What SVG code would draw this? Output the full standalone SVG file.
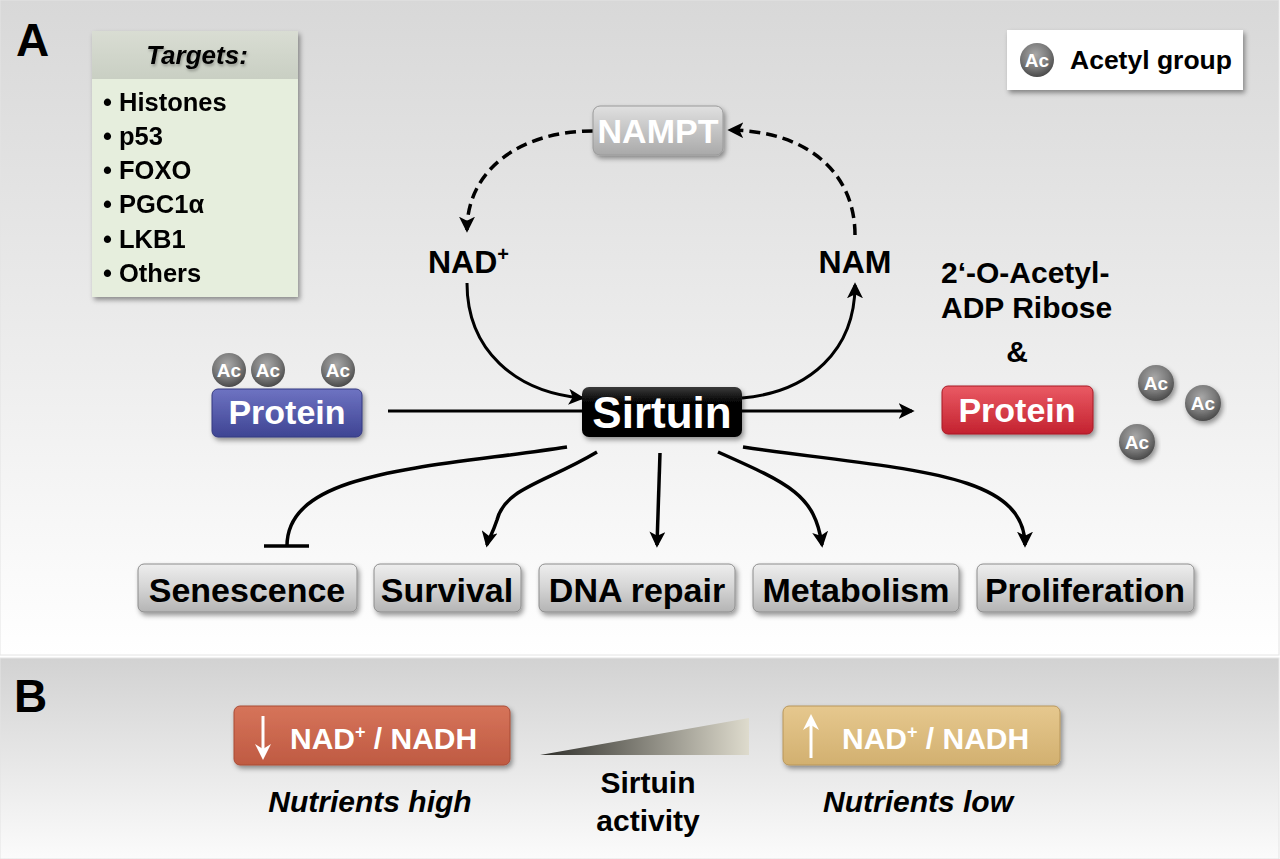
<svg xmlns="http://www.w3.org/2000/svg" width="1280" height="859" viewBox="0 0 1280 859">
<defs>
<linearGradient id="bgA" x1="0" y1="0" x2="0" y2="1"><stop offset="0" stop-color="#d8d8d8"/><stop offset="0.6" stop-color="#efefef"/><stop offset="1" stop-color="#ffffff"/></linearGradient>
<linearGradient id="bgB" x1="0" y1="0" x2="0" y2="1"><stop offset="0" stop-color="#d2d2d2"/><stop offset="1" stop-color="#fbfbfb"/></linearGradient>
<linearGradient id="gGray" x1="0" y1="0" x2="0" y2="1"><stop offset="0" stop-color="#eeeeee"/><stop offset="0.5" stop-color="#d4d4d4"/><stop offset="1" stop-color="#b4b4b4"/></linearGradient>
<linearGradient id="gNampt" x1="0" y1="0" x2="0" y2="1"><stop offset="0" stop-color="#e0e0e0"/><stop offset="1" stop-color="#a9a9a9"/></linearGradient>
<linearGradient id="gBlack" x1="0" y1="0" x2="0" y2="1"><stop offset="0" stop-color="#3a3a3a"/><stop offset="0.3" stop-color="#050505"/><stop offset="1" stop-color="#000"/></linearGradient>
<linearGradient id="gBlue" x1="0" y1="0" x2="0" y2="1"><stop offset="0" stop-color="#6e73c2"/><stop offset="1" stop-color="#3e4493"/></linearGradient>
<linearGradient id="gRed" x1="0" y1="0" x2="0" y2="1"><stop offset="0" stop-color="#ea5a64"/><stop offset="1" stop-color="#c3222f"/></linearGradient>
<linearGradient id="gOrange" x1="0" y1="0" x2="0" y2="1"><stop offset="0" stop-color="#d6745a"/><stop offset="1" stop-color="#bf5a42"/></linearGradient>
<linearGradient id="gTan" x1="0" y1="0" x2="0" y2="1"><stop offset="0" stop-color="#e6c88e"/><stop offset="1" stop-color="#d2b070"/></linearGradient>
<linearGradient id="gWedge" x1="0" y1="0" x2="1" y2="0"><stop offset="0" stop-color="#2e2e2a"/><stop offset="1" stop-color="#dedbcd"/></linearGradient>
<linearGradient id="gHead" x1="0" y1="0" x2="0" y2="1"><stop offset="0" stop-color="#d9ddd3"/><stop offset="1" stop-color="#c9cfc3"/></linearGradient>
<radialGradient id="gAc" cx="0.45" cy="0.35" r="0.65"><stop offset="0" stop-color="#a8a8a8"/><stop offset="0.6" stop-color="#7a7a7a"/><stop offset="1" stop-color="#4a4a4a"/></radialGradient>
<filter id="sh" x="-10%" y="-20%" width="125%" height="150%"><feDropShadow dx="2" dy="3" stdDeviation="2.5" flood-color="#000" flood-opacity="0.4"/></filter>
<filter id="tsh" x="-10%" y="-20%" width="125%" height="150%"><feDropShadow dx="1" dy="2" stdDeviation="1.5" flood-color="#000" flood-opacity="0.3"/></filter>
<marker id="arrL" viewBox="0 0 12 12" refX="10" refY="6" markerWidth="16" markerHeight="16" markerUnits="userSpaceOnUse" orient="auto"><path d="M0,0 L12,6 L0,12 L3,6 z" fill="#000"/></marker>
</defs>
<style>
text{font-family:"Liberation Sans",Arial,sans-serif;font-weight:bold}
.lbl{fill:#000}
.wt{fill:#fff}
.it{font-style:italic}
.bx{stroke:#8c8c8c;stroke-width:1}
.ln{fill:none;stroke:#000;stroke-width:3}
.ds{fill:none;stroke:#000;stroke-width:3.5;stroke-dasharray:11 6}
.out{fill:none;stroke:#000;stroke-width:3.5}
.ac{fill:url(#gAc)}
.act{fill:#fff;font-size:19px;text-anchor:middle}
</style>

<!-- panels -->
<rect x="0" y="0" width="1279" height="655" fill="url(#bgA)" stroke="#e4e4e4"/>
<rect x="0" y="658" width="1279" height="201" fill="url(#bgB)" stroke="#e4e4e4"/>
<text x="16" y="56" font-size="46" class="lbl">A</text>
<text x="14" y="712" font-size="46" class="lbl">B</text>

<!-- connectors -->
<g id="connectors">
<path class="ds" d="M593,131 C520,131 467,170 467,230" marker-end="url(#arrL)"/>
<path class="ds" d="M855,235 C855,175 810,131 730,130" marker-end="url(#arrL)"/>
<path class="ln" d="M467,283 C467,350 515,392 582,398" marker-end="url(#arrL)"/>
<path class="ln" d="M742,398 C810,392 855,350 855,285" marker-end="url(#arrL)"/>
<path class="ln" d="M388,411 L912,411" marker-end="url(#arrL)"/>
<path class="out" d="M567,447 C430,468 287,470 287,546"/>
<path class="out" d="M264,546 L309,546" stroke-width="5"/>
<path class="out" d="M597,452 C545,483 505,488 497,520 C492,535 488,540 487,545" marker-end="url(#arrL)"/>
<path class="out" d="M660,453 L657,545" marker-end="url(#arrL)"/>
<path class="out" d="M718,452 C790,484 815,495 822,545" marker-end="url(#arrL)"/>
<path class="out" d="M743,447 C900,470 1025,470 1025,545" marker-end="url(#arrL)"/>
</g>

<!-- targets -->
<g id="targets" filter="url(#sh)">
<rect x="92" y="31" width="206" height="266" fill="#e6eedd"/>
<rect x="92" y="31" width="206" height="48" fill="url(#gHead)"/>
<text x="197" y="64" font-size="26" class="lbl it" text-anchor="middle" filter="url(#tsh)">Targets:</text>
<g font-size="25.5" class="lbl">
<text x="103" y="111">• Histones</text>
<text x="103" y="145">• p53</text>
<text x="103" y="179">• FOXO</text>
<text x="103" y="213">• PGC1α</text>
<text x="103" y="248">• LKB1</text>
<text x="103" y="282">• Others</text>
</g>
</g>

<!-- legend -->
<g id="legend">
<rect x="1007" y="30" width="236" height="60" fill="#fff" filter="url(#sh)"/>
<circle cx="1037" cy="60" r="17" class="ac"/>
<text x="1037" y="67" class="act">Ac</text>
<text x="1070" y="69" font-size="26.5" class="lbl">Acetyl group</text>
</g>

<g id="nampt">
<rect x="593" y="106" width="130" height="49" rx="7" fill="url(#gNampt)" stroke="#9a9a9a" filter="url(#sh)"/>
<text x="658" y="143" font-size="34" class="wt" text-anchor="middle">NAMPT</text>
</g>
<g id="nad"><text x="428" y="273" font-size="32" class="lbl">NAD<tspan font-size="20" dy="-12">+</tspan></text></g>
<g id="nam"><text x="855" y="273" font-size="32" class="lbl" text-anchor="middle">NAM</text></g>

<g id="sirtuin">
<rect x="582" y="387" width="160" height="50" rx="7" fill="url(#gBlack)" filter="url(#sh)"/>
<text x="662" y="428" font-size="44" class="wt" text-anchor="middle">Sirtuin</text>
</g>

<g id="protein-ac">
<circle cx="229" cy="370" r="17" class="ac"/><text x="229" y="377" class="act">Ac</text>
<circle cx="268" cy="370" r="17" class="ac"/><text x="268" y="377" class="act">Ac</text>
<circle cx="338" cy="370" r="17" class="ac"/><text x="338" y="377" class="act">Ac</text>
<rect x="212" y="389" width="150" height="48" rx="6" fill="url(#gBlue)" stroke="#353a80" filter="url(#sh)"/>
<text x="287" y="424" font-size="34" class="wt" text-anchor="middle">Protein</text>
</g>

<g id="product">
<text x="941" y="283" font-size="30" class="lbl">2‘-O-Acetyl-</text>
<text x="941" y="318" font-size="30" class="lbl">ADP Ribose</text>
<text x="1017" y="362" font-size="30" class="lbl" text-anchor="middle">&amp;</text>
</g>

<g id="protein-deac">
<rect x="942" y="386" width="151" height="48" rx="6" fill="url(#gRed)" stroke="#a81a25" filter="url(#sh)"/>
<text x="1017" y="422" font-size="34" class="wt" text-anchor="middle">Protein</text>
<circle cx="1156" cy="383" r="18" class="ac" filter="url(#sh)"/><text x="1156" y="390" class="act">Ac</text>
<circle cx="1203" cy="403" r="18" class="ac" filter="url(#sh)"/><text x="1203" y="410" class="act">Ac</text>
<circle cx="1137" cy="442" r="18" class="ac" filter="url(#sh)"/><text x="1137" y="449" class="act">Ac</text>
</g>

<g id="senescence"><rect x="138" y="564" width="219" height="48" rx="6" fill="url(#gGray)" class="bx" filter="url(#sh)"/><text x="247" y="602" font-size="34" class="lbl" text-anchor="middle">Senescence</text></g>
<g id="survival"><rect x="374" y="564" width="147" height="48" rx="6" fill="url(#gGray)" class="bx" filter="url(#sh)"/><text x="447" y="602" font-size="34" class="lbl" text-anchor="middle">Survival</text></g>
<g id="dnarepair"><rect x="539" y="564" width="196" height="48" rx="6" fill="url(#gGray)" class="bx" filter="url(#sh)"/><text x="637" y="602" font-size="34" class="lbl" text-anchor="middle">DNA repair</text></g>
<g id="metabolism"><rect x="753" y="564" width="206" height="48" rx="6" fill="url(#gGray)" class="bx" filter="url(#sh)"/><text x="856" y="602" font-size="34" class="lbl" text-anchor="middle">Metabolism</text></g>
<g id="proliferation"><rect x="977" y="564" width="217" height="48" rx="6" fill="url(#gGray)" class="bx" filter="url(#sh)"/><text x="1085" y="602" font-size="34" class="lbl" text-anchor="middle">Proliferation</text></g>

<!-- panel B -->
<g id="nad-low">
<rect x="234" y="706" width="276" height="59" rx="6" fill="url(#gOrange)" stroke="#a94a35" filter="url(#sh)"/>
<path d="M263,716 L263,752" stroke="#fff" stroke-width="3"/>
<path d="M255,744 L263,760 L271,744 L263,749 z" fill="#fff"/>
<text x="290" y="749" font-size="30" class="wt">NAD<tspan font-size="18" dy="-11">+</tspan><tspan dy="11"> / NADH</tspan></text>
</g>
<g id="wedge"><polygon points="540,755 749,718 749,755" fill="url(#gWedge)"/></g>
<g id="nad-high">
<rect x="783" y="706" width="277" height="59" rx="6" fill="url(#gTan)" stroke="#b8965a" filter="url(#sh)"/>
<path d="M811,758 L811,722" stroke="#fff" stroke-width="3"/>
<path d="M803,730 L811,714 L819,730 L811,725 z" fill="#fff"/>
<text x="842" y="749" font-size="30" class="wt">NAD<tspan font-size="18" dy="-11">+</tspan><tspan dy="11"> / NADH</tspan></text>
</g>
<text x="370" y="812" font-size="30" class="lbl it" text-anchor="middle">Nutrients high</text>
<text x="918" y="812" font-size="30" class="lbl it" text-anchor="middle">Nutrients low</text>
<text x="648" y="793" font-size="30" class="lbl" text-anchor="middle">Sirtuin</text>
<text x="648" y="831" font-size="30" class="lbl" text-anchor="middle">activity</text>
</svg>
